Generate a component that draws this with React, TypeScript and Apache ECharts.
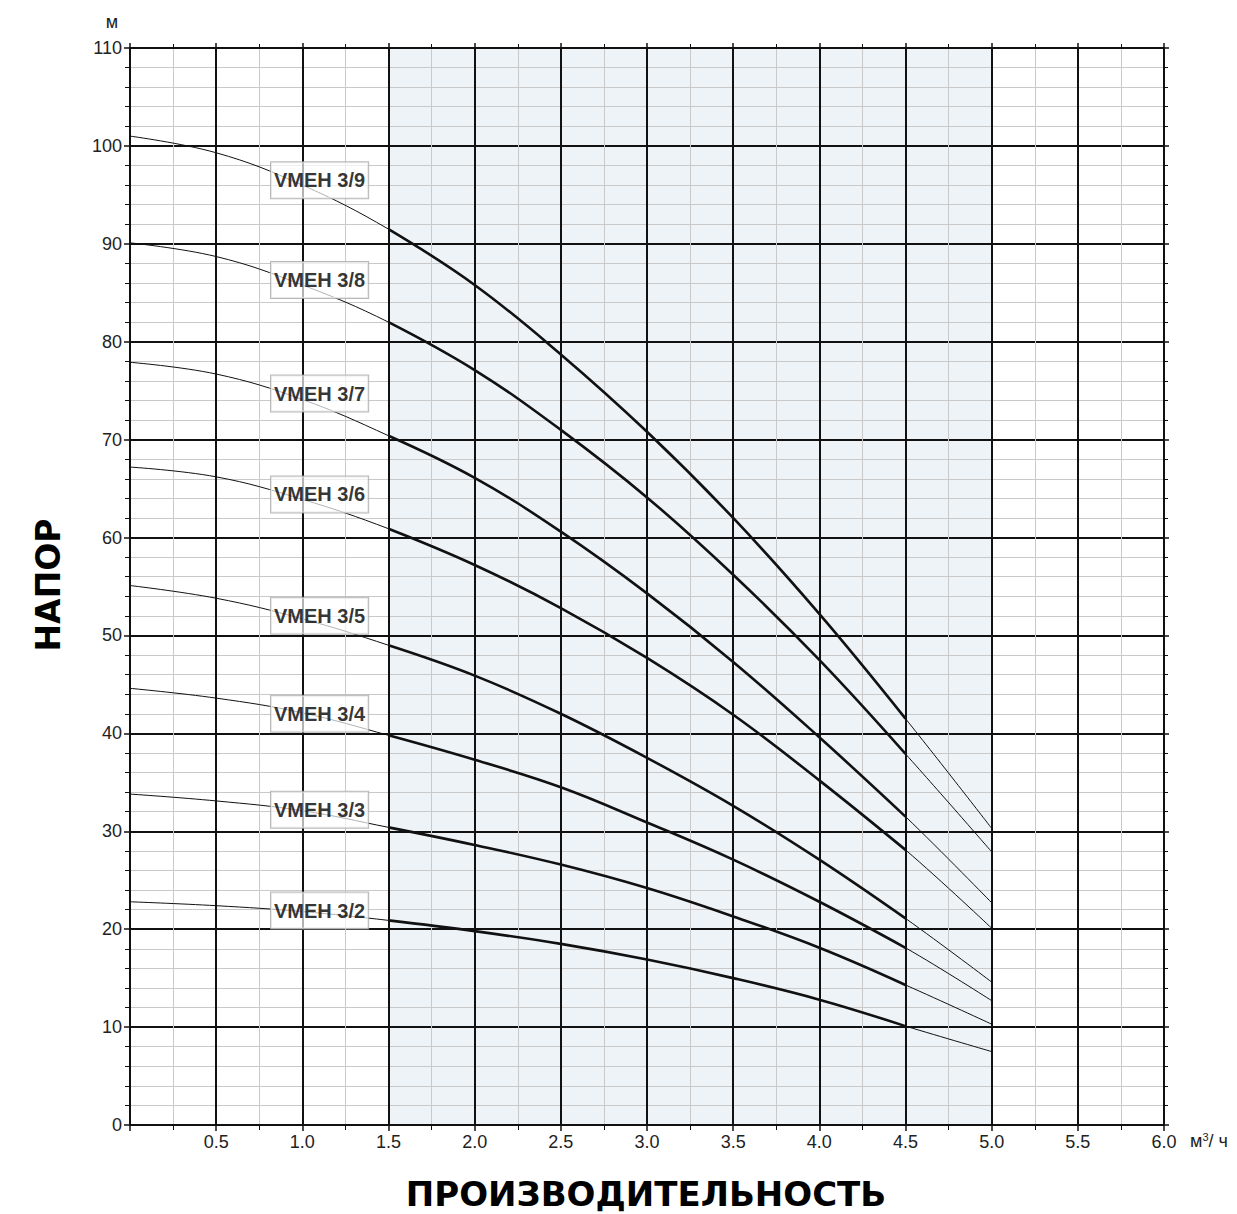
import React, { useEffect, useRef } from 'react';
import * as echarts from 'echarts';

// Flow rate, m³/h
const flow = [0, 0.5, 1.0, 1.5, 2.0, 2.5, 3.0, 3.5, 4.0, 4.5, 5.0];

const models = ['VMEH 3/9', 'VMEH 3/8', 'VMEH 3/7', 'VMEH 3/6', 'VMEH 3/5', 'VMEH 3/4', 'VMEH 3/3', 'VMEH 3/2'];

// Head, m
const head39 = [101.0, 99.3, 96.0, 91.5, 85.8, 78.7, 70.8, 62.0, 52.2, 41.5, 30.3];
const head38 = [90.1, 88.7, 85.8, 82.0, 77.1, 71.0, 64.1, 56.2, 47.5, 37.9, 27.9];
const head37 = [77.9, 76.7, 74.1, 70.4, 66.1, 60.6, 54.3, 47.3, 39.6, 31.5, 22.7];
const head36 = [67.2, 66.2, 63.9, 60.9, 57.2, 52.8, 47.7, 41.9, 35.2, 28.1, 20.1];
const head35 = [55.1, 53.8, 51.7, 49.0, 45.9, 42.0, 37.5, 32.6, 27.1, 21.1, 14.6];
const head34 = [44.6, 43.6, 42.1, 39.8, 37.3, 34.5, 30.9, 27.1, 22.8, 18.1, 12.7];
const head33 = [33.8, 33.1, 32.1, 30.4, 28.6, 26.6, 24.2, 21.3, 18.1, 14.3, 10.3];
const head32 = [22.8, 22.4, 21.8, 20.9, 19.8, 18.5, 16.9, 15.0, 12.8, 10.1, 7.5];

// Model label anchors
const labelFlow = 1.1;
const labelHeads = [96.5, 86.3, 74.7, 64.4, 52.0, 42.0, 32.2, 21.9];

// Recommended working range (shaded) and bold section
const bandStart = 1.5;
const bandEnd = 5.0;
const boldStart = 1.5;
const boldEnd = 4.5;

export default function App() {
  const ref = useRef<HTMLDivElement>(null);

  useEffect(() => {
    const chart = echarts.init(ref.current as HTMLDivElement, null, { renderer: 'svg' });
    const heads = [head39, head38, head37, head36, head35, head34, head33, head32];
    const series: any[] = [];

    series.push({
      type: 'line',
      data: [],
      z: 1,
      silent: true,
      markArea: {
        silent: true,
        itemStyle: { color: '#eef3f8' },
        data: [[{ xAxis: bandStart, yAxis: 0 }, { xAxis: bandEnd, yAxis: 110 }]],
      },
    });

    heads.forEach((h) => {
      const pts = flow.map((q, j) => [q, h[j]]);
      series.push({
        type: 'line',
        data: pts,
        smooth: 0.4,
        symbol: 'none',
        silent: true,
        lineStyle: { color: '#111', width: 1 },
        z: 4,
      });
      series.push({
        type: 'line',
        data: pts.filter((p) => p[0] >= boldStart && p[0] <= boldEnd),
        smooth: 0.4,
        symbol: 'none',
        silent: true,
        lineStyle: { color: '#111', width: 2.6 },
        z: 5,
      });
    });

    series.push({
      type: 'scatter',
      data: labelHeads.map((h, i) => ({ value: [labelFlow, h], name: models[i] })),
      symbolSize: 0,
      silent: true,
      z: 10,
      label: {
        show: true,
        position: 'inside',
        formatter: (p: any) => p.name,
        fontFamily: 'Liberation Sans, Arial, sans-serif',
        fontWeight: 'bold',
        fontSize: 20,
        color: '#000',
        backgroundColor: 'rgba(255,255,255,0.85)',
        borderColor: '#a8a8a8',
        borderWidth: 1,
        padding: [7, 3, 7, 3],
        lineHeight: 22,
      },
    });

    const labelFont = 'Liberation Sans, Arial, sans-serif';
    const black = '#111';

    chart.setOption({
      animation: false,
      backgroundColor: '#fff',
      grid: { left: 130, right: 73, top: 48, bottom: 89, containLabel: false },
      xAxis: [
        {
          type: 'value',
          min: 0,
          max: 6,
          interval: 0.5,
          position: 'bottom',
          z: 2,
          axisLine: { show: true, onZero: false, lineStyle: { color: black, width: 2 } },
          axisTick: { show: true, length: 6, lineStyle: { color: black, width: 1.5 } },
          minorTick: { show: true, splitNumber: 2, length: 5, lineStyle: { color: black, width: 1 } },
          splitLine: { show: true, lineStyle: { color: black, width: 2 } },
          minorSplitLine: { show: true, lineStyle: { color: '#c9c9c9', width: 1 } },
          axisLabel: {
            fontFamily: labelFont,
            fontSize: 18,
            color: '#222',
            margin: 8,
            formatter: (v: number) => (v === 0 ? '' : v.toFixed(1)),
          },
        },
        {
          type: 'value',
          min: 0,
          max: 6,
          interval: 0.5,
          position: 'top',
          z: 2,
          axisLine: { show: true, onZero: false, lineStyle: { color: black, width: 2 } },
          axisTick: { show: true, length: 5, lineStyle: { color: black, width: 1.5 } },
          minorTick: { show: true, splitNumber: 2, length: 4, lineStyle: { color: black, width: 1 } },
          splitLine: { show: false },
          axisLabel: { show: false },
        },
      ],
      yAxis: [
        {
          type: 'value',
          min: 0,
          max: 110,
          interval: 10,
          position: 'left',
          z: 2,
          axisLine: { show: true, onZero: false, lineStyle: { color: black, width: 2 } },
          axisTick: { show: true, length: 6, lineStyle: { color: black, width: 1.5 } },
          minorTick: { show: true, splitNumber: 5, length: 5, lineStyle: { color: black, width: 1 } },
          splitLine: { show: true, lineStyle: { color: black, width: 2 } },
          minorSplitLine: { show: true, lineStyle: { color: '#c9c9c9', width: 1 } },
          axisLabel: { fontFamily: labelFont, fontSize: 18, color: '#222', margin: 8 },
        },
        {
          type: 'value',
          min: 0,
          max: 110,
          interval: 10,
          position: 'right',
          z: 2,
          axisLine: { show: true, onZero: false, lineStyle: { color: black, width: 2 } },
          axisTick: { show: true, length: 5, lineStyle: { color: black, width: 1.5 } },
          minorTick: { show: true, splitNumber: 5, length: 4, lineStyle: { color: black, width: 1 } },
          splitLine: { show: false },
          axisLabel: { show: false },
        },
      ],
      graphic: [
        {
          type: 'text',
          x: 112,
          y: 22,
          style: {
            text: 'м',
            fontFamily: labelFont,
            fontSize: 18,
            fill: '#222',
            textAlign: 'center',
            textVerticalAlign: 'middle',
          },
        },
        {
          type: 'text',
          x: 1190,
          y: 1141,
          style: {
            text: 'м{s|3}/ ч',
            fontFamily: labelFont,
            fontSize: 18,
            fill: '#222',
            textAlign: 'left',
            textVerticalAlign: 'middle',
            rich: { s: { fontSize: 11, verticalAlign: 'top', padding: [0, 0, 9, 0], fill: '#222' } },
          },
        },
        {
          type: 'text',
          x: 48,
          y: 585,
          rotation: Math.PI / 2,
          style: {
            text: 'НАПОР',
            fontFamily: 'DejaVu Sans, Verdana, sans-serif',
            fontWeight: 'bold',
            fontSize: 33,
            fill: '#000',
            textAlign: 'center',
            textVerticalAlign: 'middle',
          },
        },
        {
          type: 'text',
          x: 646,
          y: 1194,
          style: {
            text: 'ПРОИЗВОДИТЕЛЬНОСТЬ',
            fontFamily: 'DejaVu Sans, Verdana, sans-serif',
            fontWeight: 'bold',
            fontSize: 34,
            fill: '#000',
            textAlign: 'center',
            textVerticalAlign: 'middle',
          },
        },
      ],
      series,
    });

    return () => chart.dispose();
  }, []);

  return (
    <div
      ref={ref}
      style={{ position: 'absolute', left: 0, top: 0, width: 1237, height: 1214 }}
    />
  );
}
